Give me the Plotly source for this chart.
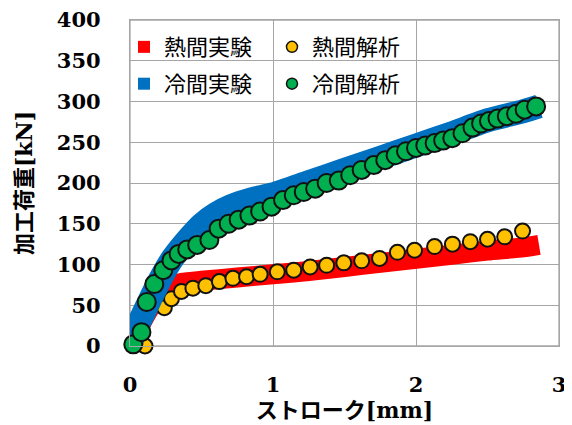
import plotly.graph_objects as go

# ---- data ----
# hot experiment (center of the red band)
hot_exp_x = [0.0, 0.05, 0.1, 0.15, 0.2, 0.27, 0.35, 0.5, 0.75, 1.0, 1.25, 1.5, 1.75, 2.0, 2.25, 2.5, 2.75, 2.86]
hot_exp_y = [0, 18, 35, 50, 62, 72, 77, 80, 84, 88, 92, 97, 102, 107, 112, 117, 121, 124]

# cold experiment (center of the blue band)
cold_exp_x = [0.0, 0.04, 0.1, 0.165, 0.23, 0.3, 0.4, 0.5, 0.6, 0.7, 0.85, 1.0, 1.25, 1.5, 1.75, 2.0, 2.25, 2.5, 2.75, 2.86]
cold_exp_y = [0, 20, 42, 66, 88, 108, 130, 149, 162, 171, 180, 186, 201, 216, 231, 246, 261, 277, 288, 294]

# hot analysis (orange circles)
hot_ana_x = [0.105, 0.24, 0.29, 0.36, 0.44, 0.53, 0.625, 0.72, 0.815, 0.91, 1.03, 1.145, 1.26, 1.375,
             1.495, 1.62, 1.745, 1.87, 1.99, 2.13, 2.255, 2.38, 2.5, 2.62, 2.745]
hot_ana_y = [0, 47, 58, 67, 71, 74, 79, 83, 85, 88, 91, 93, 97, 99,
             102, 104.5, 107.5, 115, 117.5, 122, 125, 128, 131, 134, 141]

# cold analysis (green circles)
cold_ana_x = [0.023, 0.08, 0.117, 0.17, 0.233, 0.29, 0.34, 0.40, 0.47, 0.555, 0.62, 0.69, 0.76, 0.835,
              0.91, 0.99, 1.07, 1.145, 1.215, 1.295, 1.375, 1.46, 1.54, 1.62, 1.705, 1.785, 1.857,
              1.93, 2.0, 2.065, 2.13, 2.19, 2.254, 2.325, 2.395, 2.455, 2.51, 2.57, 2.635, 2.70, 2.76, 2.84]
cold_ana_y = [2, 17, 54, 76, 93, 105, 113, 118.5, 124, 130, 144, 150, 155, 160,
              165, 171, 179, 185, 189, 193, 200, 203, 209.5, 216, 222, 228, 234,
              239, 243, 246, 249, 252, 255, 261, 268, 273, 276, 279, 282, 285, 290, 294]

names = ["熱間実験", "熱間解析", "冷間実験", "冷間解析"]
x_ticks = [0, 1, 2, 3]
y_ticks = [0, 50, 100, 150, 200, 250, 300, 350, 400]

RED = "#ff0000"
ORANGE = "#ffc000"
BLUE = "#0070c0"
GREEN = "#00b050"

fig = go.Figure()

# order: red band, orange circles, blue band, green circles
fig.add_trace(go.Scatter(x=hot_exp_x, y=hot_exp_y, mode="lines",
                         line=dict(color=RED, width=20, shape="spline", smoothing=0.6),
                         showlegend=False, hoverinfo="skip"))
fig.add_trace(go.Scatter(x=hot_ana_x, y=hot_ana_y, mode="markers",
                         marker=dict(symbol="circle", size=15, color=ORANGE,
                                     line=dict(color="#111111", width=2)),
                         showlegend=False, cliponaxis=False))
fig.add_trace(go.Scatter(x=cold_exp_x, y=cold_exp_y, mode="lines",
                         line=dict(color=BLUE, width=24, shape="spline", smoothing=0.6),
                         showlegend=False, hoverinfo="skip"))
fig.add_trace(go.Scatter(x=cold_ana_x, y=cold_ana_y, mode="markers",
                         marker=dict(symbol="circle", size=18, color=GREEN,
                                     line=dict(color="#111111", width=2)),
                         showlegend=False, cliponaxis=False))

# legend entries (one legend box per entry for exact placement)
fig.add_trace(go.Scatter(x=[None], y=[None], mode="markers", name=names[0], legend="legend",
                         marker=dict(symbol="square", size=12, color=RED)))
fig.add_trace(go.Scatter(x=[None], y=[None], mode="markers", name=names[1], legend="legend3",
                         marker=dict(symbol="circle", size=11, color=ORANGE,
                                     line=dict(color="#111111", width=1.5))))
fig.add_trace(go.Scatter(x=[None], y=[None], mode="markers", name=names[2], legend="legend2",
                         marker=dict(symbol="square", size=12, color=BLUE)))
fig.add_trace(go.Scatter(x=[None], y=[None], mode="markers", name=names[3], legend="legend4",
                         marker=dict(symbol="circle", size=11, color=GREEN,
                                     line=dict(color="#111111", width=1.5))))

GRID = "#a6a6a6"
tick_font = dict(family="DejaVu Serif", size=21, color="#000000", weight="bold")
title_font = dict(family="DejaVu Serif, Noto Sans CJK JP", size=22, color="#000000", weight="bold")
leg_font = dict(family="Noto Sans CJK JP", size=22, color="#000000")

leg_common = dict(orientation="v", xanchor="left", yanchor="middle", bgcolor="rgba(0,0,0,0)",
                  borderwidth=0, font=leg_font, itemclick=False)

# plot-area frame
fig.add_shape(type="rect", xref="paper", yref="paper", x0=0, x1=1, y0=0, y1=1,
              line=dict(color=GRID, width=1.3), fillcolor="rgba(0,0,0,0)", layer="below")

# the page body adds an 8px offset, so the figure is 8px smaller on each axis
fig.update_layout(
    width=564, height=417,
    margin=dict(l=122, r=13, t=12, b=79, autoexpand=False),
    paper_bgcolor="white", plot_bgcolor="white",
    legend=dict(x=-0.014, y=0.917, **leg_common),
    legend2=dict(x=-0.014, y=0.804, **leg_common),
    legend3=dict(x=0.331, y=0.917, **leg_common),
    legend4=dict(x=0.331, y=0.804, **leg_common),
    xaxis=dict(range=[0, 3], tickvals=x_ticks, ticktext=[str(v) for v in x_ticks],
               automargin=False,
               showgrid=True, gridcolor=GRID, gridwidth=1.3,
               showline=True, linecolor=GRID, linewidth=1.3, mirror=True, zeroline=False,
               ticks="", ticklabelstandoff=20, tickfont=tick_font, ticklabeloverflow="allow",
               title=dict(text="ストローク[mm]", font=title_font, standoff=4)),
    yaxis=dict(range=[0, 400], tickvals=y_ticks, ticktext=[str(v) for v in y_ticks],
               automargin=False,
               showgrid=True, gridcolor=GRID, gridwidth=1.3,
               showline=True, linecolor=GRID, linewidth=1.3, mirror=True, zeroline=False,
               ticks="", ticklabelstandoff=24, tickfont=tick_font, ticklabeloverflow="allow",
               title=dict(text="加工荷重[kN]", font=title_font, standoff=18)),
)

fig.write_html("out.html")
